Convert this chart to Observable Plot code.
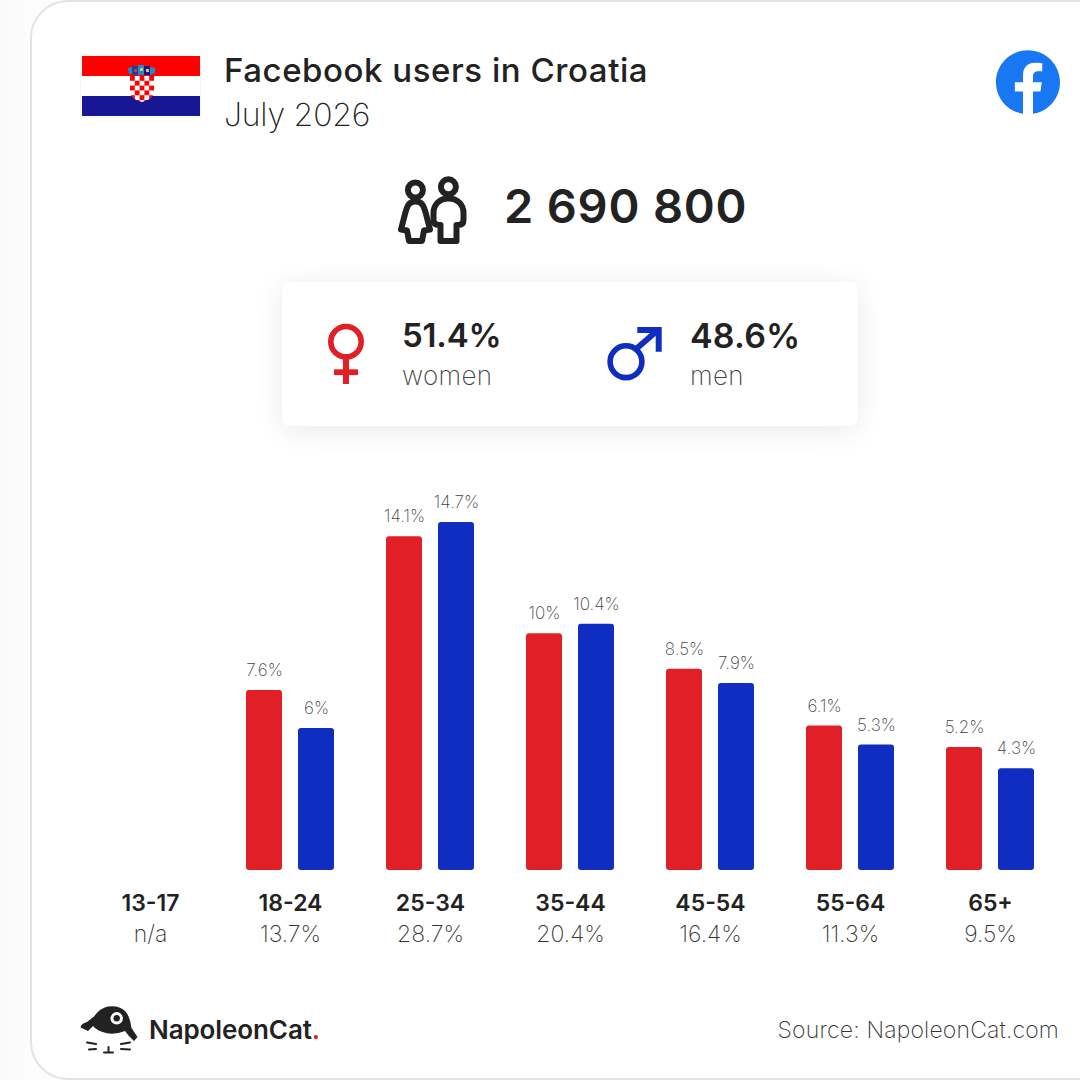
<!DOCTYPE html>
<html><head><meta charset="utf-8">
<script src="https://cdn.jsdelivr.net/npm/d3@7"></script>
<script src="https://cdn.jsdelivr.net/npm/@observablehq/plot@0.6"></script>
<style>
html,body{margin:0;padding:0;background:#fff;}
body{width:1080px;height:1080px;position:relative;overflow:hidden;font-family:Inter,"Noto Sans",sans-serif;color:#222;}
#bg{position:absolute;left:0;top:0;width:1080px;height:1080px;background:linear-gradient(90deg,#f9f9f9,#fdfdfd 30px);}
#card{position:absolute;left:30px;top:0;width:1120px;height:1076px;background:#fff;border:2px solid #e3e3e3;border-radius:38px;box-sizing:content-box;}
.t{position:absolute;white-space:nowrap;line-height:1;}
#box{position:absolute;left:282px;top:282px;width:576px;height:144px;background:#fff;border-radius:8px;box-shadow:0 4px 28px rgba(0,0,0,.09);}
#deco{position:absolute;left:0;top:0;}
#chart{position:absolute;left:0;top:470px;}
</style></head><body>
<div id="bg"></div><div id="card"></div><div id="box"></div>
<div id="chart"></div>
<svg id="deco" width="1080" height="1080" viewBox="0 0 1080 1080" fill="none">
  <defs>
    <pattern id="chk" x="130" y="76" width="9.6" height="9.6" patternUnits="userSpaceOnUse">
      <rect width="9.6" height="9.6" fill="#fff"/><rect width="4.8" height="4.8" fill="#f00"/><rect x="4.8" y="4.8" width="4.8" height="4.8" fill="#f00"/>
    </pattern>
  </defs>
  <!-- flag -->
  <rect x="80.5" y="54.5" width="120" height="63" fill="#fff" stroke="#f4f4f4"/>
  <rect x="82" y="56" width="118" height="20" fill="#f00"/>
  <rect x="82" y="96" width="118" height="20" fill="#171796"/>
  <path d="M130 76H154V92Q154 99 142 102Q130 99 130 92Z" fill="url(#chk)"/>
  <path d="M128 68l4-1 0 7 -3 0z" fill="#1a8fd0"/><path d="M132 66h6v9h-6z" fill="#1e3f9a"/><path d="M138 65h6v10h-6z" fill="#1a8fd0"/><path d="M144 66h6v9h-6z" fill="#171796"/><path d="M150 67l5 1 0 5 -5 2z" fill="#1a8fd0"/>
  <rect x="140" y="68" width="3" height="3" fill="#e8c33a"/><rect x="146" y="69" width="3" height="3" fill="#e8c33a"/><rect x="134" y="69" width="3" height="3" fill="#e03030"/>
  <!-- facebook -->
  <g transform="translate(996 50) scale(2.6667)"><path fill="#1877f2" d="M24 12.073c0-6.627-5.373-12-12-12s-12 5.373-12 12c0 5.99 4.388 10.954 10.125 11.854v-8.385H7.078v-3.47h3.047V9.43c0-3.007 1.792-4.669 4.533-4.669 1.312 0 2.686.235 2.686.235v2.953H15.83c-1.491 0-1.956.925-1.956 1.874v2.25h3.328l-.532 3.47h-2.796v8.385C19.612 23.027 24 18.062 24 12.073z"/></g>
  <!-- people -->
  <g stroke="#222" stroke-width="6" stroke-linejoin="round" stroke-linecap="round">
    <circle cx="415.4" cy="190" r="7.5"/><circle cx="448.4" cy="186.8" r="7.5"/>
    <path d="M415.4 201.5C423 201.5 424 207 426 214L430 229.5 L424 230.5 L422 241 H409 L407 230.5 L401 229.5 L405 214C407 207 408 201.5 415.4 201.5Z"/>
    <path d="M448.4 198.5C458 198.5 463.5 205 463.5 213V220 Q463.5 225 458 225 H456.5 V241 H440.5 V225 H439 Q433.5 225 433.5 220 V213C433.5 205 439 198.5 448.4 198.5Z"/>
  </g>
  <!-- female -->
  <g fill="#e01f26"><circle cx="346" cy="341.7" r="15.2" fill="none" stroke="#e01f26" stroke-width="5.6"/><rect x="343" y="358" width="6" height="26"/><rect x="334" y="369.3" width="24" height="5.8"/></g>
  <!-- male -->
  <g><circle cx="626" cy="361.7" r="15.9" fill="none" stroke="#0f2dc1" stroke-width="5.6"/><path d="M636 349 L658 330" stroke="#0f2dc1" stroke-width="5.8"/><path d="M637.3 327H661.7V351.7H655.7V333H637.3Z" fill="#0f2dc1"/></g>
  <!-- NapoleonCat logo -->
  <path fill="#222" d="M80.5 1027.5 Q81 1023.5 87 1022 L94 1016.5 Q100 1008 108 1006.5 Q119 1005 125 1011 Q130 1016 131.500 1028 L137.500 1037 L134 1041 L128.500 1035.500 L125 1031 Q115 1035 106 1033 Q97 1031 93 1026 L88 1031 Z"/>
  <circle cx="116.700" cy="1018.300" r="6.200" fill="#fff"/><circle cx="116.700" cy="1018.300" r="3.200" fill="#222"/>
  <g stroke="#222" stroke-width="2" stroke-linecap="round">
    <path d="M87 1042.500L96 1044M89 1049.500L96 1049M130 1042.500L121 1044M130 1049.500L121 1049M108.500 1047V1052M104 1052.500H113"/>
  </g>
</svg>
<div class="t" style="left:224px;top:54px;font-size:33px;font-weight:500;letter-spacing:.55px" id="title">Facebook users in Croatia</div>
<div class="t" style="left:224px;top:99px;font-size:32px;font-weight:200;letter-spacing:-.2px">July 2026</div>
<div class="t" style="left:504px;top:182px;font-size:47px;font-weight:600;letter-spacing:.8px">2 690 800</div>
<div class="t" style="left:402px;top:319px;font-size:33px;font-weight:600;letter-spacing:-.2px">51.4%</div>
<div class="t" style="left:402px;top:363px;font-size:26px;font-weight:200;color:#444;letter-spacing:.3px">women</div>
<div class="t" style="left:690px;top:319px;font-size:34px;font-weight:600;letter-spacing:.2px">48.6%</div>
<div class="t" style="left:690px;top:363px;font-size:26px;font-weight:200;color:#444;letter-spacing:.3px">men</div>
<div class="t" style="left:149px;top:1017px;font-size:26px;font-weight:600;letter-spacing:-.1px">NapoleonCat<span style="color:#e01f26">.</span></div>
<div class="t" style="right:21px;top:1019px;font-size:23px;font-weight:200;color:#333;letter-spacing:.17px">Source: NapoleonCat.com</div>
<script>
const ages = ["13-17","18-24","25-34","35-44","45-54","55-64","65+"];
const totals = ["n/a","13.7%","28.7%","20.4%","16.4%","11.3%","9.5%"];
const women = [null,7.6,14.1,10,8.5,6.1,5.2];
const men = [null,6,14.7,10.4,7.9,5.3,4.3];
const sexes = ["women","men"];
const colors = ["#e01f26","#0f2dc1"];

const rows = ages.flatMap((age,i)=>[
  {age,sex:"women",v:women[i]},
  {age,sex:"men",v:men[i]}
]).filter(d=>d.v!=null);
const totalRows = ages.map((age,i)=>({age,total:totals[i]}));

const H = 490, base = 400, pxPer = 23.67, yMax = 16;
const font = 'Inter,"Noto Sans",sans-serif';
const chart = Plot.plot({
  width:1080,height:H,
  marginTop:0,marginBottom:H-base,marginLeft:80,marginRight:20,
  style:{background:"transparent",fontFamily:font,overflow:"visible"},
  fx:{domain:ages,padding:0,label:null,round:false},
  x:{domain:sexes,range:[106,194],paddingInner:16/52,paddingOuter:0,round:false,axis:null},
  y:{domain:[0,yMax],range:[base,base-yMax*pxPer],axis:null},
  color:{domain:sexes,range:colors},
  marks:[
    Plot.barY(rows,{fx:"age",x:"sex",y:"v",fill:"sex",rx:3}),
    Plot.text(rows,{fx:"age",x:"sex",y:"v",text:d=>d.v+"%",dy:-20,fontSize:17,fontWeight:200,fill:"#444"}),
    Plot.axisFx({anchor:"bottom",tickSize:0,tickPadding:24,fontSize:23,fontWeight:600,fill:"#222",label:null}),
    Plot.text(totalRows,{fx:"age",frameAnchor:"bottom",text:"total",dy:71,fontSize:23,fontWeight:200,fill:"#333"})
  ]
});
document.getElementById("chart").appendChild(chart);
</script>
</body></html>
